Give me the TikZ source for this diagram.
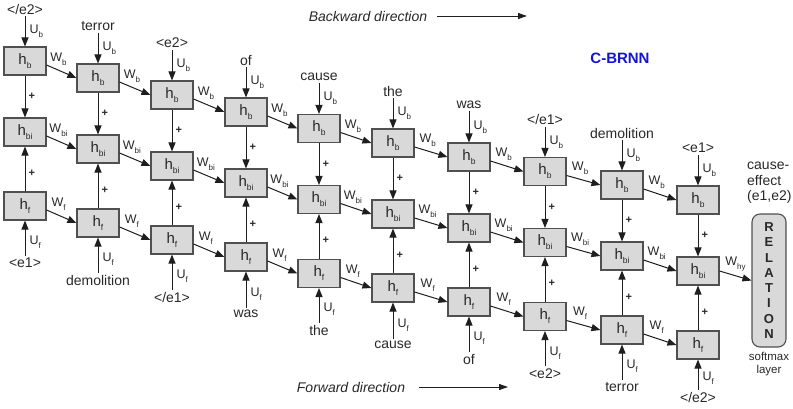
\documentclass[tikz,border=0pt]{standalone}
\usepackage{fontspec}
\setmainfont{Liberation Sans}
\usetikzlibrary{arrows.meta,calc}
\definecolor{boxfill}{RGB}{217,217,217}
\definecolor{boxborder}{RGB}{80,80,80}
\definecolor{linec}{RGB}{30,30,30}
\definecolor{textc}{RGB}{40,40,40}
\definecolor{titleblue}{RGB}{20,20,210}
\newcommand{\hsub}[1]{h\raisebox{-4pt}{\fontsize{8.5}{9}\selectfont #1}}
\newcommand{\wsub}[2]{#1\raisebox{-4pt}{\fontsize{8}{9}\selectfont #2}}
\tikzset{
  cell/.style={draw=boxborder, fill=boxfill, line width=1.1pt, minimum width=42pt,
    minimum height=28pt, inner sep=0pt, text=textc, font=\fontsize{15}{16}\selectfont},
  conn/.style={-{Triangle[length=9pt,width=7pt]}, line width=1pt, draw=linec},
  word/.style={font=\fontsize{14}{16}\selectfont, text=textc, inner sep=2pt},
  wlab/.style={font=\fontsize{12.5}{14}\selectfont, text=textc, inner sep=1pt},
  plus/.style={font=\bfseries\fontsize{11}{12}\selectfont, text=textc, inner sep=2pt},
}
\begin{document}
\begin{tikzpicture}[x=1pt,y=-1pt]
\useasboundingbox (0,0) rectangle (793,408);
\foreach \i/\x/\y/\tw/\bw/\bs in {
  1/25/61/{</e2>}/{<e1>}/0,
  2/98/78/{terror}/{demolition}/0,
  3/172/95/{<e2>}/{</e1>}/0,
  4/246/112/{of}/{was}/0,
  5/319/128.5/{cause}/{the}/0,
  6/393/143/{the}/{cause}/0,
  7/469/157/{was}/{of}/0,
  8/545/171.5/{</e1>}/{<e2>}/0,
  9/622/185/{demolition}/{terror}/0,
  10/698/200/{<e1>}/{</e2>}/-5}{
  \node[cell] (b\i) at (\x,\y) {\hsub{b}};
  \node[cell] (bi\i) at (\x,\y+71) {\hsub{bi}};
  \node[cell] (f\i) at (\x,\y+145) {\hsub{f}};
  \node[word] (t\i) at (\x,\y-52) {\tw};
  \node[word] (w\i) at (\x,\y+202+\bs) {\bw};
  \draw[conn] (t\i.south) -- (b\i.north) node[midway,right=3pt,wlab]{\wsub{U}{b}};
  \draw[conn] (w\i.north) -- (f\i.south) node[midway,right=3pt,wlab,yshift=-4pt]{\wsub{U}{f}};
  \draw[conn] (b\i.south) -- (bi\i.north) node[midway,right=1pt,plus]{+};
  \draw[conn] (f\i.north) -- (bi\i.south) node[midway,right=1pt,plus,yshift=-4pt]{+};
}
\foreach \i [evaluate=\i as \j using int(\i+1)] in {1,...,9}{
  \draw[conn] ($(b\i.east)+(0,4)$) -- (b\j.west) node[pos=0.4,above=3pt,wlab]{\wsub{W}{b}};
  \draw[conn] ($(bi\i.east)+(0,4)$) -- (bi\j.west) node[pos=0.4,above=3pt,wlab]{\wsub{W}{bi}};
  \draw[conn] ($(f\i.east)+(0,4)$) -- (f\j.west) node[pos=0.4,above=3pt,wlab]{\wsub{W}{f}};
}
% relation box
\node[draw=boxborder, fill=boxfill, line width=1.1pt, rounded corners=8pt,
  minimum width=34pt, minimum height=133pt, inner sep=0pt, text=textc,
  align=center, font=\bfseries\fontsize{13}{15.3}\selectfont] (rel) at (769,280.5)
  {R\\E\\L\\A\\T\\I\\O\\N};
\draw[conn] (bi10.east) -- (rel.west) node[midway,above=3pt,wlab]{\wsub{W}{hy}};
\node[word, align=left, anchor=north west, font=\fontsize{14}{15.5}\selectfont] (ce) at (745,160)
  {cause-\\effect\\(e1,e2)};
\node[word, align=center, font=\fontsize{11.5}{13}\selectfont] (sm) at (769,364.5)
  {softmax\\layer};
% titles
\node[font=\bfseries\fontsize{15}{17}\selectfont, text=titleblue] (title) at (620,58) {C-BRNN};
\node[word, font=\itshape\fontsize{14}{16}\selectfont] (bwd) at (368,16) {Backward direction};
\coordinate (bwdend) at (527,16);
\draw[-{Triangle[length=9pt,width=6pt]}, line width=0.9pt, draw=linec] ([xshift=8pt]bwd.east) -- (bwdend);
\node[word, font=\itshape\fontsize{14}{16}\selectfont] (fwd) at (351,387) {Forward direction};
\coordinate (fwdend) at (508,387);
\draw[-{Triangle[length=9pt,width=6pt]}, line width=0.9pt, draw=linec] ([xshift=12pt]fwd.east) -- (fwdend);
\end{tikzpicture}
\end{document}
